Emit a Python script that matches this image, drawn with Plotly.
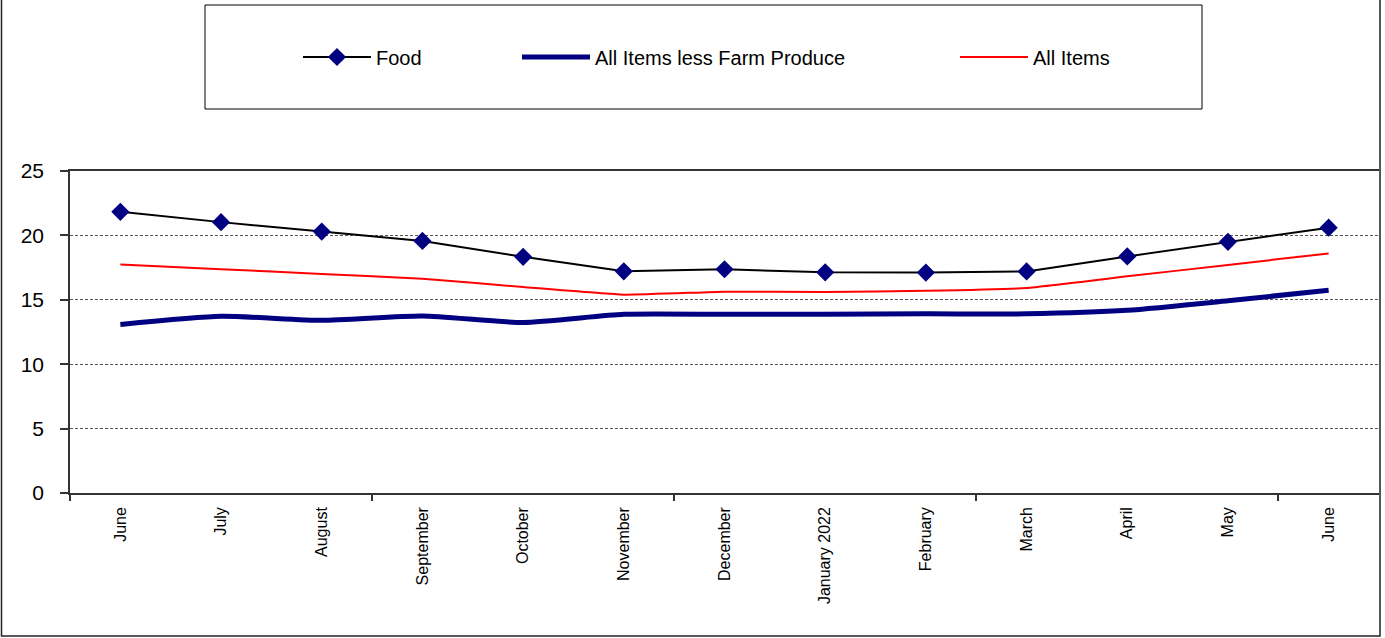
import plotly.graph_objects as go

months = ["June", "July", "August", "September", "October", "November", "December",
          "January 2022", "February", "March", "April", "May", "June"]
food = [21.83, 21.03, 20.30, 19.57, 18.34, 17.21, 17.37, 17.13, 17.11, 17.20, 18.37, 19.50, 20.60]
core = [13.09, 13.72, 13.41, 13.74, 13.24, 13.87, 13.87, 13.87, 13.91, 13.91, 14.18, 14.92, 15.75]
headline = [17.75, 17.38, 17.01, 16.63, 15.99, 15.40, 15.63, 15.60, 15.70, 15.92, 16.82, 17.71, 18.60]
y_ticks = [0, 5, 10, 15, 20, 25]

W, H = 1385, 638
L, R, T, B = 70, 6, 171, 145
pw = W - L - R
ph = H - T - B

def px_x(px):
    return (px - L) / pw

def px_y(py):
    return (H - B - py) / ph

xs = list(range(len(months)))
FONT = "Liberation Sans, Arial, sans-serif"

fig = go.Figure()
fig.add_trace(go.Scatter(
    x=xs, y=food, name="Food", mode="lines+markers",
    line=dict(color="#000000", width=2),
    marker=dict(symbol="diamond", size=14, color="#000080"),
    legend="legend"))
fig.add_trace(go.Scatter(
    x=xs, y=core, name="All Items less Farm Produce", mode="lines",
    line=dict(color="#000080", width=5, shape="spline", smoothing=0.6),
    legend="legend2"))
fig.add_trace(go.Scatter(
    x=xs, y=headline, name="All Items", mode="lines",
    line=dict(color="#FF0000", width=2, shape="spline", smoothing=0.4),
    legend="legend3"))

leg_common = dict(orientation="h", yanchor="middle", xanchor="left",
                  y=px_y(57), bgcolor="rgba(0,0,0,0)", borderwidth=0,
                  font=dict(family=FONT, size=20, color="#000000"),
                  itemwidth=68, itemsizing="trace")

fig.update_layout(
    width=W, height=H,
    margin=dict(l=L, r=R, t=T, b=B, pad=0),
    paper_bgcolor="#FFFFFF", plot_bgcolor="#FFFFFF",
    font=dict(family=FONT, color="#000000"),
    showlegend=True,
    legend=dict(x=px_x(298), **leg_common),
    legend2=dict(x=px_x(517), **leg_common),
    legend3=dict(x=px_x(955), **leg_common),
    xaxis=dict(
        range=[-0.5, len(months) - 0.5],
        tickmode="array", tickvals=xs, ticktext=months,
        tickangle=-90, ticks="", ticklabelstandoff=6,
        tickfont=dict(family=FONT, size=16, color="#000000"),
        showgrid=False, zeroline=False,
        showline=True, linecolor="#333333", linewidth=1.5, mirror=True,
        minor=dict(tickmode="array", tickvals=[-0.5, 2.5, 5.5, 8.5, 11.5],
                   ticks="outside", ticklen=6, tickcolor="#333333", tickwidth=1.5,
                   showgrid=False),
    ),
    yaxis=dict(
        range=[0, 25], tickmode="array", tickvals=y_ticks,
        ticktext=[str(v) for v in y_ticks],
        ticks="outside", ticklen=8, tickcolor="#333333", tickwidth=1.5,
        ticklabelstandoff=12,
        tickfont=dict(family=FONT, size=21, color="#000000"),
        showgrid=True, gridcolor="#555555", gridwidth=1, griddash="3px,2px",
        zeroline=False, showline=True, linecolor="#333333", linewidth=1.5,
    ),
    shapes=[
        dict(type="rect", xref="paper", yref="paper",
             x0=px_x(205), x1=px_x(1202), y0=px_y(109), y1=px_y(5),
             line=dict(color="#000000", width=1), fillcolor="rgba(0,0,0,0)", layer="below"),
        dict(type="rect", xref="paper", yref="paper",
             x0=px_x(1.5), x1=px_x(1380), y0=px_y(636), y1=px_y(-2),
             line=dict(color="#222222", width=1.5), fillcolor="rgba(0,0,0,0)", layer="below"),
    ],
)

fig.write_html("out.html",
               config={"displayModeBar": False},
               post_script="document.body.style.margin='0';document.body.style.overflow='hidden';")
